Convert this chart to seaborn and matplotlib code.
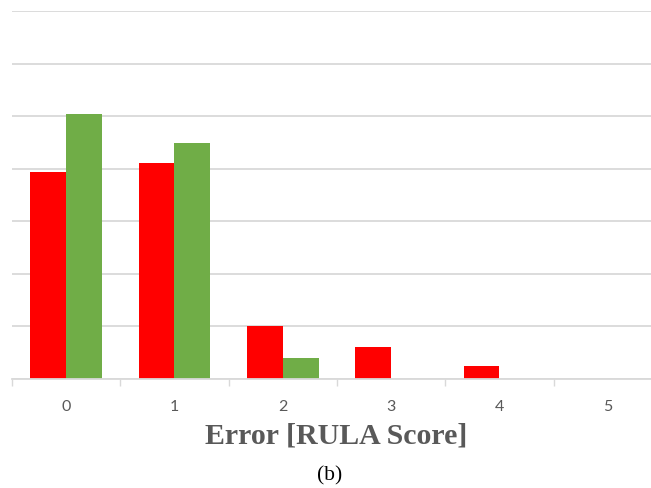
import pandas as pd
import numpy as np
import matplotlib.pyplot as plt
import seaborn as sns

# Values (one gridline = 5 units)
categories = ['0', '1', '2', '3', '4', '5']
series_names = ['Series 1', 'Series 2']
red_values = [19.7, 20.5, 5.0, 3.0, 1.2, 0.0]
green_values = [25.2, 22.4, 2.0, 0.0, 0.0, 0.0]
bar_colors = ['#ff0000', '#70ad47']

df = pd.DataFrame({
    'Error': categories * 2,
    'Series': [series_names[0]] * len(categories) + [series_names[1]] * len(categories),
    'Value': red_values + green_values,
})

sns.set_style('white')
plt.rcParams['font.family'] = ['Lato', 'DejaVu Sans']

fig = plt.figure(figsize=(6.51, 4.88), dpi=100)
# plot area runs a bit past the right edge, like the cropped original
ax = fig.add_axes([12 / 651, 109 / 488, 650 / 651, 368 / 488])

sns.barplot(data=df, x='Error', y='Value', hue='Series', order=categories,
            hue_order=series_names, palette=bar_colors, saturation=1,
            width=0.66, legend=False, linewidth=0, edgecolor='none', ax=ax)

ax.set_xlim(-0.5, len(categories) - 0.5)
ax.set_ylim(0, 35)
ax.set_yticks(np.arange(0, 36, 5))
ax.yaxis.grid(True, color='#d9d9d9', linewidth=1.3)
ax.set_axisbelow(True)
ax.tick_params(axis='y', left=False, labelleft=False)

# category labels centred, small tick marks between categories
ax.set_xticks(range(len(categories)))
ax.set_xticklabels(categories)
ax.tick_params(axis='x', which='major', bottom=False, length=0, pad=15,
               labelsize=11.5, labelcolor='#595959')
ax.set_xticks(np.arange(-0.5, len(categories), 1), minor=True)
ax.tick_params(axis='x', which='minor', bottom=True, length=5, width=1,
               color='#d9d9d9', direction='out')

for side in ['top', 'right', 'left']:
    ax.spines[side].set_visible(False)
ax.spines['bottom'].set_color('#d9d9d9')
ax.spines['bottom'].set_linewidth(1.3)

ax.set_xlabel('')
ax.set_ylabel('')

fig.text(336 / 651, 1 - 436 / 488, 'Error [RULA Score]', ha='center', va='center',
         family='Liberation Serif', fontweight='bold', fontsize=21.5, color='#595959')
fig.text(330 / 651, 1 - 476 / 488, '(b)', ha='center', va='center',
         family='Liberation Serif', fontsize=15.5, color='black')

fig.savefig('out.png', dpi=100)
